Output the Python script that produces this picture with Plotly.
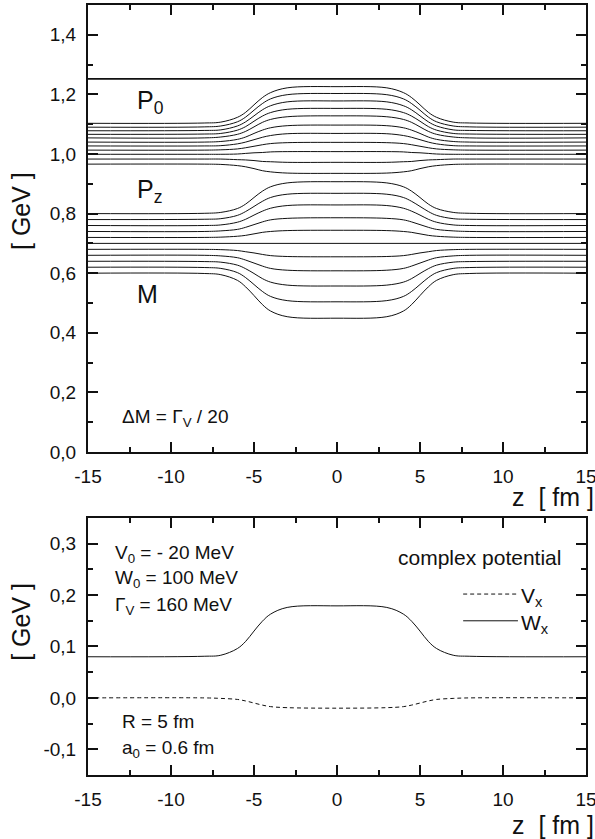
import plotly.graph_objects as go

# ---------------- data ----------------
z = [-15, -8, -7, -6, -5.5, -5, -4.5, -4, -3, 0, 3, 4, 4.5, 5, 5.5, 6, 7, 8, 15]
z_flat = [-15, 15]

# constant upper line
upper_line = [1.252, 1.252]

# P0 family (11 curves)
p0_lines = [
    [1.103,1.104,1.107,1.123,1.140,1.165,1.189,1.206,1.222,1.226,1.222,1.206,1.189,1.165,1.140,1.123,1.107,1.104,1.103],
    [1.090,1.091,1.094,1.108,1.124,1.147,1.169,1.185,1.199,1.203,1.199,1.185,1.169,1.147,1.124,1.108,1.094,1.091,1.090],
    [1.078,1.079,1.081,1.094,1.108,1.128,1.148,1.162,1.175,1.178,1.175,1.162,1.148,1.128,1.108,1.094,1.081,1.079,1.078],
    [1.066,1.067,1.069,1.080,1.092,1.110,1.127,1.139,1.150,1.153,1.150,1.139,1.127,1.110,1.092,1.080,1.069,1.067,1.066],
    [1.054,1.054,1.057,1.066,1.076,1.091,1.106,1.116,1.125,1.128,1.125,1.116,1.106,1.091,1.076,1.066,1.057,1.054,1.054],
    [1.040,1.040,1.042,1.049,1.057,1.069,1.080,1.088,1.095,1.097,1.095,1.088,1.080,1.069,1.057,1.049,1.042,1.040,1.040],
    [1.027,1.027,1.028,1.034,1.040,1.048,1.056,1.062,1.068,1.069,1.068,1.062,1.056,1.048,1.040,1.034,1.028,1.027,1.027],
    [1.013,1.013,1.014,1.017,1.021,1.026,1.031,1.035,1.038,1.039,1.038,1.035,1.031,1.026,1.021,1.017,1.014,1.013,1.013],
    [0.999,0.999,0.999,1.000,1.002,1.004,1.005,1.007,1.008,1.008,1.008,1.007,1.005,1.004,1.002,1.000,0.999,0.999,0.999],
    [0.983,0.983,0.983,0.981,0.980,0.978,0.975,0.974,0.972,0.972,0.972,0.974,0.975,0.978,0.980,0.981,0.983,0.983,0.983],
    [0.966,0.966,0.965,0.961,0.957,0.951,0.944,0.940,0.936,0.935,0.936,0.940,0.944,0.951,0.957,0.961,0.965,0.966,0.966],
]

# Pz family (upper part of the middle group)
pz_lines = [
    [0.800,0.801,0.804,0.817,0.832,0.854,0.875,0.890,0.903,0.907,0.903,0.890,0.875,0.854,0.832,0.817,0.804,0.801,0.800],
    [0.780,0.781,0.783,0.794,0.807,0.824,0.841,0.854,0.865,0.868,0.865,0.854,0.841,0.824,0.807,0.794,0.783,0.781,0.780],
    [0.760,0.760,0.762,0.771,0.781,0.795,0.808,0.818,0.827,0.829,0.827,0.818,0.808,0.795,0.781,0.771,0.762,0.760,0.760],
    [0.740,0.740,0.742,0.747,0.754,0.763,0.772,0.779,0.784,0.786,0.784,0.779,0.772,0.763,0.754,0.747,0.742,0.740,0.740],
    [0.720,0.720,0.721,0.724,0.727,0.732,0.737,0.740,0.743,0.744,0.743,0.740,0.737,0.732,0.727,0.724,0.721,0.720,0.720],
]
flat_line = [0.700, 0.700]

# M family (lower part of the middle group)
m_lines = [
    [0.680,0.680,0.679,0.676,0.672,0.668,0.663,0.659,0.656,0.655,0.656,0.659,0.663,0.668,0.672,0.676,0.679,0.680,0.680],
    [0.660,0.660,0.658,0.652,0.644,0.634,0.624,0.616,0.610,0.608,0.610,0.616,0.624,0.634,0.644,0.652,0.658,0.660,0.660],
    [0.640,0.639,0.637,0.627,0.615,0.599,0.582,0.570,0.560,0.557,0.560,0.570,0.582,0.599,0.615,0.627,0.637,0.639,0.640],
    [0.620,0.619,0.616,0.602,0.585,0.562,0.539,0.522,0.508,0.504,0.508,0.522,0.539,0.562,0.585,0.602,0.616,0.619,0.620],
    [0.600,0.599,0.595,0.576,0.554,0.525,0.495,0.473,0.454,0.449,0.454,0.473,0.495,0.525,0.554,0.576,0.595,0.599,0.600],
]

# bottom panel: complex potential
w_x = [0.080,0.081,0.083,0.096,0.110,0.130,0.149,0.163,0.176,0.179,0.176,0.163,0.149,0.130,0.110,0.096,0.083,0.081,0.080]
v_x = [0.000,0.000,-0.001,-0.003,-0.006,-0.010,-0.014,-0.017,-0.019,-0.020,-0.019,-0.017,-0.014,-0.010,-0.006,-0.003,-0.001,0.000,0.000]

# tick labels
x_tickvals = [-15, -10, -5, 0, 5, 10, 15]
x_ticktext = ["-15", "-10", "-5", "0", "5", "10", "15"]
x_minor = [-12.5, -7.5, -2.5, 2.5, 7.5, 12.5]
y1_tickvals = [0.0, 0.2, 0.4, 0.6, 0.8, 1.0, 1.2, 1.4]
y1_ticktext = ["0,0", "0,2", "0,4", "0,6", "0,8", "1,0", "1,2", "1,4"]
y1_minor = [0.1, 0.3, 0.5, 0.7, 0.9, 1.1, 1.3]
y2_tickvals = [-0.1, 0.0, 0.1, 0.2, 0.3]
y2_ticktext = ["-0,1", "0,0", "0,1", "0,2", "0,3"]
y2_minor = [-0.05, 0.05, 0.15, 0.25]

# ---------------- figure ----------------
FONT = "Liberation Sans, Arial, Helvetica, sans-serif"
INK = "#111111"
fig = go.Figure()

def curve(x, y, xa="x", ya="y", width=1.0, dash="solid"):
    fig.add_trace(go.Scatter(x=x, y=y, mode="lines", xaxis=xa, yaxis=ya,
                             line=dict(color=INK, width=width, dash=dash,
                                       shape="spline", smoothing=1.0),
                             showlegend=False, hoverinfo="skip"))

curve(z_flat, upper_line, width=1.6)
for ys in p0_lines:
    curve(z, ys)
for ys in pz_lines:
    curve(z, ys)
curve(z_flat, flat_line)
for ys in m_lines:
    curve(z, ys)

curve(z, w_x, "x2", "y2")
curve(z, v_x, "x2", "y2", dash="4px,3px")

axis_common = dict(showline=True, linewidth=2, linecolor=INK, mirror="allticks",
                   ticks="inside", ticklen=10, tickwidth=1.6, tickcolor=INK,
                   showgrid=False, zeroline=False, automargin=False,
                   tickfont=dict(family=FONT, size=19, color=INK),
                   ticklabelstandoff=6, ticklabeloverflow="allow")
minor_common = dict(ticks="inside", ticklen=5, tickwidth=1.6, tickcolor=INK, showgrid=False)

fig.update_layout(
    width=595, height=839,
    margin=dict(l=88, r=9, t=5, b=64),
    paper_bgcolor="white", plot_bgcolor="white",
    showlegend=False,
    xaxis=dict(domain=[0, 1], anchor="y", range=[-15, 15],
               tickmode="array", tickvals=x_tickvals, ticktext=x_ticktext,
               minor=dict(tickmode="array", tickvals=x_minor, **minor_common),
               **axis_common),
    yaxis=dict(domain=[0.4195, 1.0], anchor="x", range=[0, 1.5],
               tickmode="array", tickvals=y1_tickvals, ticktext=y1_ticktext,
               minor=dict(tickmode="array", tickvals=y1_minor, **minor_common),
               **axis_common),
    xaxis2=dict(domain=[0, 1], anchor="y2", range=[-15, 15],
                tickmode="array", tickvals=x_tickvals, ticktext=x_ticktext,
                minor=dict(tickmode="array", tickvals=x_minor, **minor_common),
                **axis_common),
    yaxis2=dict(domain=[0.0, 0.3338], anchor="x2", range=[-0.15, 0.35],
                tickmode="array", tickvals=y2_tickvals, ticktext=y2_ticktext,
                minor=dict(tickmode="array", tickvals=y2_minor, **minor_common),
                **axis_common),
)

def note(text, x, y, size=19, xref="x", yref="y", xanchor="left", yanchor="middle", angle=0):
    fig.add_annotation(text=text, x=x, y=y, xref=xref, yref=yref, xanchor=xanchor,
                       yanchor=yanchor, showarrow=False, textangle=angle,
                       font=dict(family=FONT, size=size, color=INK))

# top panel labels
note("P<sub>0</sub>", -12.15, 1.175, size=25)
note("P<sub>z</sub>", -12.15, 0.876, size=25)
note("M", -12.15, 0.530, size=25)
note("ΔM = Γ<sub>V</sub> / 20", -13.1, 0.115, size=19)
note("[ GeV ]", -0.1345, 0.7325, size=25, xref="paper", yref="paper", xanchor="center", angle=-90)
note("z  [ fm ]", 1.02, 0.361, size=25, xref="paper", yref="paper", xanchor="right")

# bottom panel labels
note("V<sub>0</sub> = - 20 MeV", -13.5, 0.280, xref="x2", yref="y2")
note("W<sub>0</sub> = 100 MeV", -13.5, 0.232, xref="x2", yref="y2")
note("Γ<sub>V</sub> = 160 MeV", -13.5, 0.178, xref="x2", yref="y2")
note("R = 5 fm", -13.1, -0.046, xref="x2", yref="y2")
note("a<sub>0</sub> = 0.6 fm", -13.1, -0.100, xref="x2", yref="y2")
note("complex potential", 13.6, 0.274, size=21, xref="x2", yref="y2", xanchor="right")
note("V<sub>x</sub>", 10.95, 0.196, size=21, xref="x2", yref="y2")
note("W<sub>x</sub>", 10.95, 0.143, size=21, xref="x2", yref="y2")
note("[ GeV ]", -0.1345, 0.199, size=25, xref="paper", yref="paper", xanchor="center", angle=-90)
note("z  [ fm ]", 1.02, -0.065, size=25, xref="paper", yref="paper", xanchor="right")

# legend samples for the bottom panel
fig.add_shape(type="line", xref="x2", yref="y2", x0=7.6, x1=10.9, y0=0.202, y1=0.202,
              line=dict(color=INK, width=1, dash="4px,3px"))
fig.add_shape(type="line", xref="x2", yref="y2", x0=7.6, x1=10.9, y0=0.150, y1=0.150,
              line=dict(color=INK, width=1))

fig.write_html("out.html")
